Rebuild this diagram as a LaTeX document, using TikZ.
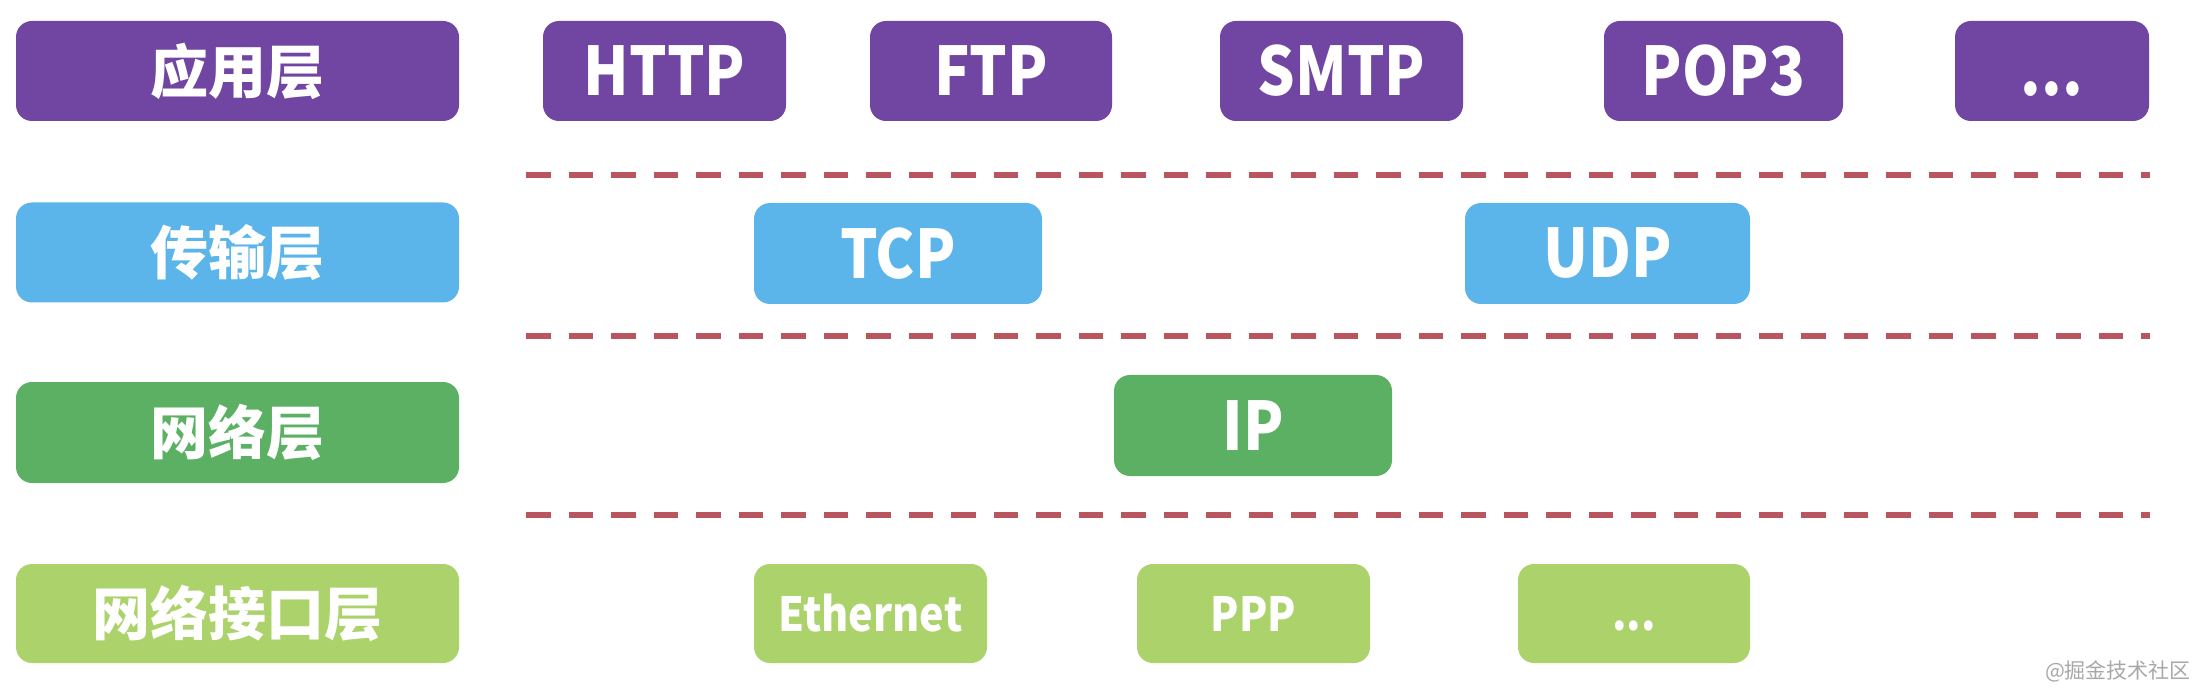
\documentclass[tikz,border=0pt]{standalone}
\usepackage{fontspec}
\setmainfont{Noto Sans CJK SC}
\newfontfamily\latinfont{Noto Sans CJK SC}[FakeStretch=0.88]
\definecolor{cApp}{HTML}{7145A2}
\definecolor{cTrans}{HTML}{5BB5EA}
\definecolor{cNet}{HTML}{5BB063}
\definecolor{cLink}{HTML}{ACD36B}
\definecolor{cDash}{HTML}{B8555F}
\definecolor{cMark}{HTML}{A8A8A8}
\begin{document}
\begin{tikzpicture}[x=1pt,y=-1pt,
  box/.style={rectangle, rounded corners=16pt, inner sep=0pt, text=white},
  layerbox/.style={box, minimum width=443pt, minimum height=100pt, font=\bfseries\fontsize{58}{60}\selectfont},
  protobig/.style={box, minimum height=100pt, font=\latinfont\bfseries\fontsize{67}{72}\selectfont},
  protosmall/.style={box, minimum height=99pt, font=\latinfont\bfseries\fontsize{47}{52}\selectfont},
  sepline/.style={draw=cDash, line width=6pt, dash pattern=on 24.5pt off 18pt},
]
\useasboundingbox (0,0) rectangle (2208,700);
\fill[white] (0,0) rectangle (2208,700);

% Row 1: application layer
\node[layerbox, fill=cApp] (app) at (237.5,71) {应用层};
\node[protobig, fill=cApp, minimum width=243pt] (http) at (664.5,71) {HTTP};
\node[protobig, fill=cApp, minimum width=242pt] (ftp) at (991,71) {FTP};
\node[protobig, fill=cApp, minimum width=243pt] (smtp) at (1341.5,71) {SMTP};
\node[protobig, fill=cApp, minimum width=239pt] (pop3) at (1723.5,71) {POP3};
\node[protobig, fill=cApp, minimum width=194pt] (appmore) at (2052,71) {\vphantom{P}...};

% Row 2: transport layer
\node[layerbox, fill=cTrans] (trans) at (237.5,252.5) {传输层};
\node[protobig, fill=cTrans, minimum width=288pt, minimum height=101pt] (tcp) at (898,253.5) {TCP};
\node[protobig, fill=cTrans, minimum width=285pt, minimum height=101pt] (udp) at (1607.5,253.5) {UDP};

% Row 3: network layer
\node[layerbox, fill=cNet, minimum height=101pt] (net) at (237.5,432.5) {网络层};
\node[protobig, fill=cNet, minimum width=278pt, minimum height=101pt] (ip) at (1253,425.5) {IP};

% Row 4: link layer
\node[layerbox, fill=cLink, minimum height=99pt] (link) at (237.5,613.5) {网络接口层};
\node[protosmall, fill=cLink, minimum width=233pt] (eth) at (870.5,613.5) {Ethernet};
\node[protosmall, fill=cLink, minimum width=233pt] (ppp) at (1253.5,613.5) {PPP};
\node[protosmall, fill=cLink, minimum width=232pt] (linkmore) at (1634,613.5) {\vphantom{P}...};

% Separator lines
\coordinate (s1a) at (526,175);  \coordinate (s1b) at (2150,175);
\coordinate (s2a) at (526,336);  \coordinate (s2b) at (2150,336);
\coordinate (s3a) at (526,515);  \coordinate (s3b) at (2150,515);
\draw[sepline] (s1a) -- (s1b);
\draw[sepline] (s2a) -- (s2b);
\draw[sepline] (s3a) -- (s3b);

% Watermark
\node[text=cMark, inner sep=0pt, font=\fontsize{21}{23}\selectfont] (mark) at (2118,671) {@掘金技术社区};
\end{tikzpicture}
\end{document}
